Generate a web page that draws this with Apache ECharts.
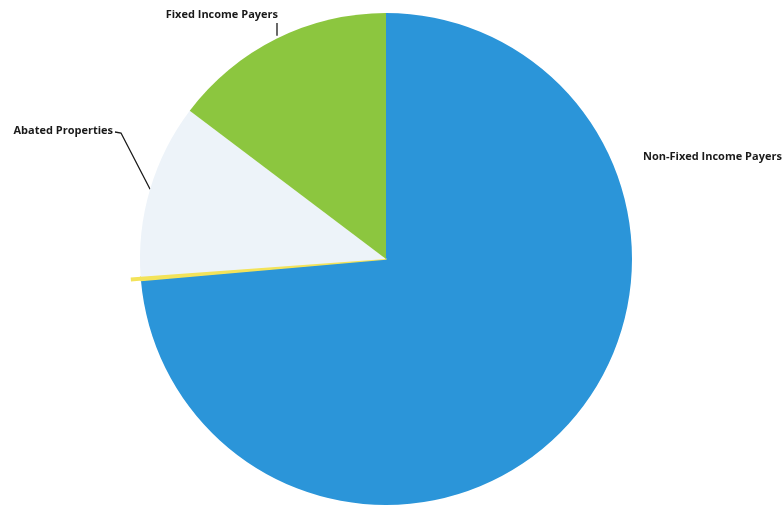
<!DOCTYPE html>
<html>
<head>
<meta charset="utf-8">
<script src="https://cdn.jsdelivr.net/npm/echarts@6/dist/echarts.min.js"></script>
<style>
html,body{margin:0;padding:0;background:#fff;}
#chart{width:783px;height:508px;}
</style>
</head>
<body>
<div id="chart"></div>
<script>
var categories = ['Non-Fixed Income Payers', '', 'Abated Properties', 'Fixed Income Payers'];
var shares = [73.6, 0.25, 11.45, 14.7];
var colors = ['#2b95d9', '#f3e35a', '#edf3f9', '#8cc63f'];

var labelLayouts = [
  { x: 643, y: 157, align: 'left', line: false },
  null,
  { x: 113, y: 131, align: 'right', line: true, via: [121, 133] },
  { x: 278, y: 15, align: 'right', line: true, via: [277, 23] }
];

var chart = echarts.init(document.getElementById('chart'));
var fontSpec = { fontFamily: 'Open Sans', fontWeight: 'bold', fontSize: 11, color: '#1a1a1a' };

chart.setOption({
  animation: false,
  series: [
    {
      type: 'pie',
      center: [386, 259],
      radius: [0, 256],
      startAngle: 90,
      silent: true,
      z: 1,
      label: { show: false },
      labelLine: { show: false },
      data: shares.map(function (v, i) {
        return {
          value: v,
          name: categories[i] || 'sep',
          itemStyle: { color: i === 1 ? colors[1] : 'rgba(0,0,0,0)', borderWidth: 0 }
        };
      })
    },
    {
      type: 'pie',
      center: [386, 259],
      radius: [0, 246],
      startAngle: 90,
      z: 2,
      data: shares.map(function (v, i) {
        return {
          value: v,
          name: categories[i] || 'sep',
          itemStyle: i === 1 ? { color: colors[i], borderColor: colors[i], borderWidth: 1.5 } : { color: colors[i], borderWidth: 0 },
          label: { show: i !== 1 },
          labelLine: { show: i === 2 || i === 3 }
        };
      }),
      label: Object.assign({ formatter: '{b}' }, fontSpec),
      labelLine: { lineStyle: { color: '#1a1a1a', width: 1.3 }, length: 10, length2: 10 },
      labelLayout: function (params) {
        var L = labelLayouts[params.dataIndex];
        if (!L) return {};
        var out = { x: L.x, y: L.y, align: L.align, verticalAlign: 'middle' };
        if (L.line && params.labelLinePoints) {
          var p0 = params.labelLinePoints[0];
          if (params.dataIndex === 3) {
            out.labelLinePoints = [[L.via[0], p0[1] - 3], L.via, L.via];
          } else {
            out.labelLinePoints = [p0, L.via, [L.x + 2, L.y + 1]];
          }
        }
        return out;
      }
    }
  ]
});
</script>
</body>
</html>
